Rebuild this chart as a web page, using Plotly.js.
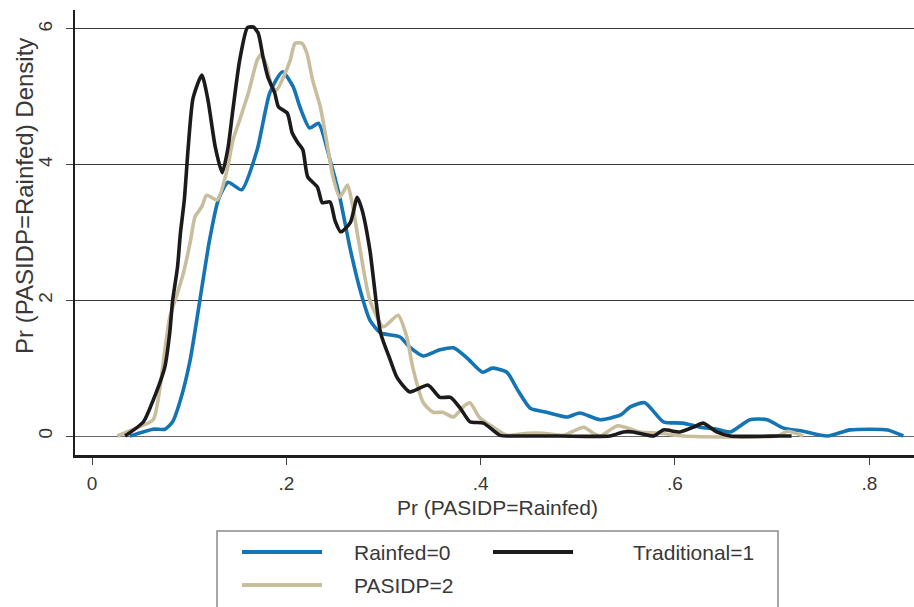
<!DOCTYPE html>
<html>
<head>
<meta charset="utf-8">
<script src="https://cdn.plot.ly/plotly-3.0.1.min.js"></script>
<style>html,body{margin:0;padding:0;background:#fff;}#chart{width:914px;height:607px;}</style>
</head>
<body>
<div id="chart"></div>
<script>
// ---- Data ----
const seriesNames = ["Rainfed=0", "Traditional=1", "PASIDP=2"];

const rainfedX = [0.039,0.063,0.075,0.083,0.091,0.101,0.111,0.121,0.130,0.140,0.154,0.170,0.183,0.196,0.207,0.214,0.224,0.233,0.245,0.255,0.266,0.276,0.286,0.297,0.317,0.327,0.341,0.358,0.372,0.386,0.402,0.412,0.427,0.438,0.451,0.468,0.489,0.502,0.523,0.544,0.554,0.569,0.588,0.608,0.626,0.643,0.657,0.677,0.695,0.711,0.732,0.757,0.780,0.801,0.819,0.835];
const rainfedY = [0.00,0.10,0.10,0.21,0.53,1.12,2.00,2.89,3.48,3.74,3.63,4.22,5.06,5.37,5.15,4.85,4.54,4.61,4.07,3.52,2.74,2.15,1.71,1.52,1.46,1.31,1.18,1.27,1.30,1.15,0.94,1.00,0.94,0.68,0.41,0.35,0.28,0.34,0.24,0.31,0.43,0.49,0.21,0.19,0.13,0.10,0.06,0.24,0.24,0.12,0.07,0.00,0.09,0.10,0.09,0.00];

const traditionalX = [0.034,0.053,0.063,0.075,0.080,0.083,0.088,0.091,0.095,0.099,0.104,0.113,0.119,0.127,0.134,0.140,0.145,0.152,0.160,0.166,0.171,0.176,0.181,0.188,0.192,0.201,0.206,0.212,0.217,0.222,0.232,0.237,0.245,0.250,0.256,0.266,0.273,0.278,0.286,0.297,0.307,0.314,0.327,0.346,0.358,0.369,0.379,0.389,0.403,0.420,0.438,0.482,0.533,0.547,0.557,0.578,0.588,0.605,0.619,0.629,0.643,0.657,0.708,0.720];
const traditionalY = [0.00,0.21,0.53,1.02,1.52,2.00,2.49,2.99,3.48,4.25,4.98,5.32,4.98,4.25,3.88,4.25,4.81,5.54,6.02,6.03,5.94,5.59,5.29,5.06,4.85,4.76,4.47,4.32,4.22,3.82,3.67,3.44,3.45,3.18,3.01,3.15,3.52,3.33,2.74,1.52,1.12,0.86,0.65,0.75,0.57,0.57,0.41,0.21,0.19,0.01,0.00,0.00,0.00,0.06,0.06,0.00,0.09,0.06,0.13,0.19,0.06,0.00,0.00,0.00];

const pasidpX = [0.026,0.046,0.063,0.070,0.075,0.080,0.088,0.094,0.101,0.106,0.113,0.118,0.129,0.139,0.145,0.152,0.161,0.170,0.174,0.180,0.185,0.190,0.197,0.204,0.209,0.216,0.221,0.227,0.235,0.243,0.248,0.255,0.263,0.268,0.276,0.286,0.300,0.315,0.324,0.330,0.341,0.351,0.361,0.372,0.382,0.389,0.399,0.413,0.427,0.448,0.464,0.485,0.506,0.516,0.523,0.541,0.564,0.585,0.608,0.705,0.716,0.732];
const pasidpY = [0.00,0.12,0.24,0.72,1.27,1.75,2.11,2.40,2.85,3.23,3.38,3.55,3.48,3.92,4.36,4.66,5.06,5.54,5.62,5.44,5.15,5.10,5.29,5.54,5.79,5.79,5.65,5.25,4.85,4.22,3.82,3.52,3.70,3.41,2.74,2.00,1.61,1.78,1.46,1.02,0.49,0.35,0.35,0.28,0.43,0.49,0.27,0.13,0.01,0.04,0.04,0.01,0.13,0.04,0.00,0.15,0.06,0.04,0.00,0.00,0.07,0.00];

const xTickVals = [0, 0.2, 0.4, 0.6, 0.8];
const xTickText = ["0", ".2", ".4", ".6", ".8"];
const yTickVals = [0, 2, 4, 6];
const yTickText = ["0", "2", "4", "6"];

const xTitle = "Pr (PASIDP=Rainfed)";
const yTitle = "Pr (PASIDP=Rainfed) Density";

// ---- Styles ----
const colors = ["#1474b4", "#1c1a1a", "#c8bd9c"];
const FONT = "Liberation Sans, Arial, sans-serif";
const TXT = "#383838";

function mk(x, y, i) {
  return {
    x: x, y: y, type: "scatter", mode: "lines", name: seriesNames[i],
    line: {color: colors[i], width: 3.6, shape: "spline", smoothing: 0.6},
    hoverinfo: "skip", cliponaxis: true
  };
}

const data = [mk(rainfedX, rainfedY, 0), mk(pasidpX, pasidpY, 2), mk(traditionalX, traditionalY, 1)];

// legend geometry (paper coords; plot area x 75..914, y 10..455 px)
function px2x(p) { return (p - 75) / 839; }
function py2y(p) { return (455 - p) / 445; }

const shapes = [
  {type: "rect", xref: "paper", yref: "paper", x0: px2x(217), x1: px2x(778), y0: py2y(531), y1: py2y(615),
   line: {color: "#8a8a8a", width: 1.5}, fillcolor: "rgba(0,0,0,0)"},
  {type: "line", xref: "paper", yref: "paper", x0: px2x(242), x1: px2x(322), y0: py2y(552), y1: py2y(552),
   line: {color: colors[0], width: 4}},
  {type: "line", xref: "paper", yref: "paper", x0: px2x(493), x1: px2x(573), y0: py2y(552), y1: py2y(552),
   line: {color: colors[1], width: 4}},
  {type: "line", xref: "paper", yref: "paper", x0: px2x(242), x1: px2x(322), y0: py2y(585), y1: py2y(585),
   line: {color: colors[2], width: 4}}
];

const annotations = [
  {text: seriesNames[0], xref: "paper", yref: "paper", x: px2x(352), y: py2y(552), xanchor: "left", yanchor: "middle", showarrow: false, font: {family: FONT, size: 21, color: TXT}},
  {text: seriesNames[1], xref: "paper", yref: "paper", x: px2x(631), y: py2y(552), xanchor: "left", yanchor: "middle", showarrow: false, font: {family: FONT, size: 21, color: TXT}},
  {text: seriesNames[2], xref: "paper", yref: "paper", x: px2x(352), y: py2y(585), xanchor: "left", yanchor: "middle", showarrow: false, font: {family: FONT, size: 21, color: TXT}},
  {text: xTitle, xref: "paper", yref: "paper", x: px2x(497), y: py2y(508), xanchor: "center", yanchor: "middle", showarrow: false, font: {family: FONT, size: 21, color: TXT}},
  {text: yTitle, xref: "paper", yref: "paper", x: px2x(24), y: py2y(196), xanchor: "center", yanchor: "middle", textangle: -90, showarrow: false, font: {family: FONT, size: 24, color: TXT}}
];

const layout = {
  width: 914, height: 607,
  margin: {l: 75, r: 0, t: 10, b: 152, pad: 0},
  paper_bgcolor: "#ffffff", plot_bgcolor: "#ffffff",
  showlegend: false,
  xaxis: {
    range: [-0.0175, 0.846], tickvals: xTickVals, ticktext: xTickText,
    showgrid: false, zeroline: false,
    showline: true, linecolor: "#1e1e1e", linewidth: 2.5,
    ticks: "outside", ticklen: 7, tickwidth: 1, tickcolor: "#444",
    tickfont: {family: FONT, size: 19, color: TXT}, ticklabelstandoff: 3
  },
  yaxis: {
    range: [-0.28, 6.28], tickvals: yTickVals, ticktext: yTickText, tickangle: -90,
    showgrid: true, gridcolor: "#3a3a3a", gridwidth: 1,
    zeroline: true, zerolinecolor: "#6a6a6a", zerolinewidth: 1,
    showline: true, linecolor: "#1e1e1e", linewidth: 2.5,
    ticks: "outside", ticklen: 7, tickwidth: 1, tickcolor: "#444",
    tickfont: {family: FONT, size: 19, color: TXT}, ticklabelstandoff: 6
  },
  shapes: shapes,
  annotations: annotations
};

Plotly.newPlot("chart", data, layout, {staticPlot: true, displayModeBar: false});
</script>
</body>
</html>
